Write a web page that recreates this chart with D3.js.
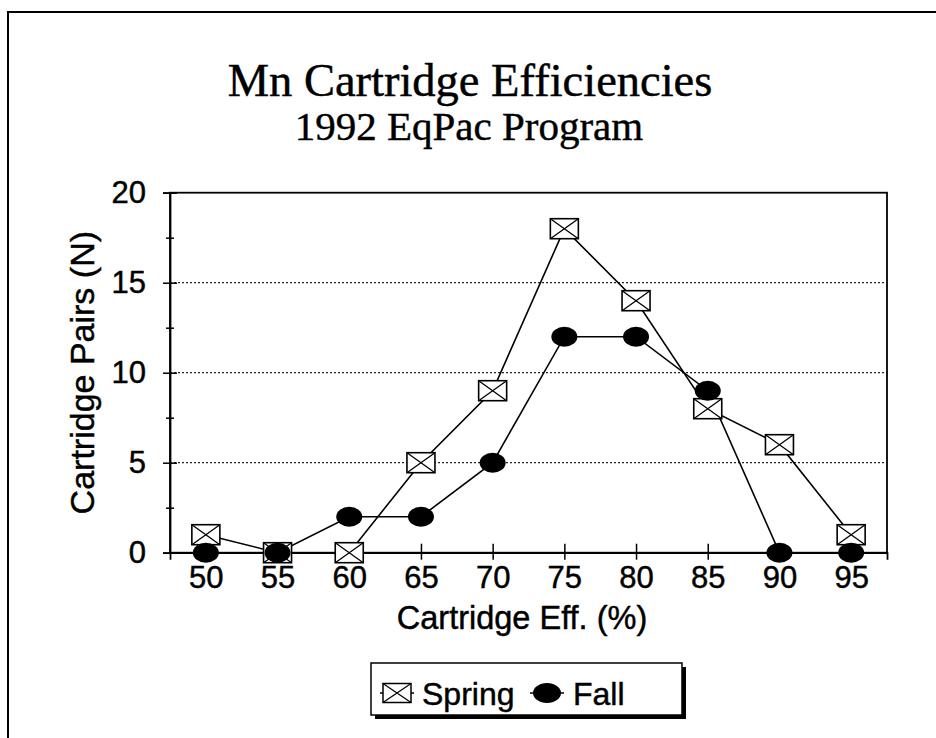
<!DOCTYPE html>
<html>
<head>
<meta charset="utf-8">
<script src="https://cdn.jsdelivr.net/npm/d3@7"></script>
<style>
  html, body { margin: 0; padding: 0; background: #fff; }
  svg { display: block; }
  svg text { stroke: #000; stroke-width: 0.45px; }
</style>
</head>
<body>
<svg id="chart" width="936" height="738"></svg>
<script>
// ---- Data ----
const categories = ["50", "55", "60", "65", "70", "75", "80", "85", "90", "95"];
const springValues = [1, 0, 0, 5, 9, 18, 14, 8, 6, 1];
const fallValues = [0, 0, 2, 2, 5, 12, 12, 9, 0, 0];
const yTickValues = [0, 5, 10, 15, 20];
const yMinorTickValues = [2.5, 7.5, 12.5, 17.5];
const titleText = "Mn Cartridge Efficiencies";
const subtitleText = "1992 EqPac Program";
const xTitleText = "Cartridge Eff. (%)";
const yTitleText = "Cartridge Pairs (N)";
const seriesNames = ["Spring", "Fall"];

// ---- Layout ----
const svg = d3.select("#chart");
const plot = { left: 170, right: 887, top: 192.7, bottom: 552.7 };
const sans = "'Liberation Sans', Arial, Helvetica, sans-serif";
const serif = "'Liberation Serif', 'Times New Roman', Times, serif";

const x = d3.scalePoint().domain(categories).range([plot.left, plot.right]).padding(0.5);
const y = d3.scaleLinear().domain([0, 20]).range([plot.bottom, plot.top]);

svg.append("rect").attr("width", 936).attr("height", 738).attr("fill", "#fff");

// outer frame (top and left edges visible)
svg.append("path")
  .attr("d", "M8,738 L8,12 L936,12")
  .attr("fill", "none").attr("stroke", "#000").attr("stroke-width", 2);

// titles
svg.append("text").attr("x", 470).attr("y", 96)
  .attr("text-anchor", "middle").attr("font-family", serif).attr("font-size", 46.5)
  .text(titleText);
svg.append("text").attr("x", 469).attr("y", 140)
  .attr("text-anchor", "middle").attr("font-family", serif).attr("font-size", 41)
  .text(subtitleText);

// gridlines
svg.append("g").selectAll("line")
  .data(yTickValues.filter(v => v > 0 && v < 20))
  .join("line")
  .attr("x1", plot.left).attr("x2", plot.right)
  .attr("y1", d => y(d)).attr("y2", d => y(d))
  .attr("stroke", "#222").attr("stroke-width", 1.2).attr("stroke-dasharray", "2,2");

// plot frame
svg.append("rect")
  .attr("x", plot.left).attr("y", plot.top)
  .attr("width", plot.right - plot.left).attr("height", plot.bottom - plot.top)
  .attr("fill", "none").attr("stroke", "#000").attr("stroke-width", 1.8);

// y axis
const yAxis = svg.append("g").attr("transform", `translate(${plot.left},0)`)
  .call(d3.axisLeft(y).tickValues(yTickValues).tickSize(7).tickPadding(17).tickFormat(d3.format("d")));
yAxis.select(".domain").attr("stroke-width", 1.8);
yAxis.selectAll(".tick line").attr("x1", 7).attr("x2", -7).attr("stroke-width", 1.5);
yAxis.selectAll(".tick text").attr("font-family", sans).attr("font-size", 31).attr("fill", "#000");

const yMinor = svg.append("g").attr("transform", `translate(${plot.left},0)`)
  .call(d3.axisLeft(y).tickValues(yMinorTickValues).tickSize(4).tickFormat(""));
yMinor.select(".domain").remove();
yMinor.selectAll(".tick line").attr("x1", 4).attr("x2", -4).attr("stroke-width", 1.5);

// x axis
const xAxis = svg.append("g").attr("transform", `translate(0,${plot.bottom})`)
  .call(d3.axisBottom(x).tickSize(7).tickPadding(16));
xAxis.select(".domain").attr("stroke-width", 1.8);
xAxis.selectAll(".tick line").attr("y1", -9).attr("y2", 7).attr("stroke-width", 1.5);
xAxis.selectAll(".tick text").attr("font-family", sans).attr("font-size", 31).attr("fill", "#000")
  .attr("dy", null).attr("y", 35);

// axis titles
svg.append("text").attr("x", 522).attr("y", 629)
  .attr("text-anchor", "middle").attr("font-family", sans).attr("font-size", 32.5)
  .text(xTitleText);
svg.append("text")
  .attr("transform", `translate(94,${(plot.top + plot.bottom) / 2}) rotate(-90)`)
  .attr("text-anchor", "middle").attr("font-family", sans).attr("font-size", 34)
  .text(yTitleText);

// lines
const line = d3.line().x((d, i) => x(categories[i])).y(d => y(d));
svg.append("path").datum(springValues).attr("d", line)
  .attr("fill", "none").attr("stroke", "#000").attr("stroke-width", 1.6);
svg.append("path").datum(fallValues).attr("d", line)
  .attr("fill", "none").attr("stroke", "#000").attr("stroke-width", 1.6);

// spring markers
const boxW = 28, boxH = 20;
function drawSpring(g) {
  g.append("rect").attr("x", -boxW / 2).attr("y", -boxH / 2).attr("width", boxW).attr("height", boxH)
    .attr("fill", "#fff").attr("stroke", "#000").attr("stroke-width", 1.6);
  g.append("path")
    .attr("d", `M${-boxW / 2},${-boxH / 2} L${boxW / 2},${boxH / 2} M${boxW / 2},${-boxH / 2} L${-boxW / 2},${boxH / 2}`)
    .attr("stroke", "#000").attr("stroke-width", 1.3);
}
svg.append("g").selectAll("g")
  .data(springValues)
  .join("g")
  .attr("transform", (d, i) => `translate(${x(categories[i])},${y(d)})`)
  .each(function () { drawSpring(d3.select(this)); });

// fall markers
svg.append("g").selectAll("ellipse")
  .data(fallValues)
  .join("ellipse")
  .attr("cx", (d, i) => x(categories[i])).attr("cy", d => y(d))
  .attr("rx", 13).attr("ry", 10).attr("fill", "#000");

// legend
const lg = { x: 371, y: 663, w: 311, h: 52 };
svg.append("rect").attr("x", lg.x + 4).attr("y", lg.y + 4).attr("width", lg.w).attr("height", lg.h).attr("fill", "#000");
svg.append("rect").attr("x", lg.x).attr("y", lg.y).attr("width", lg.w).attr("height", lg.h)
  .attr("fill", "#fff").attr("stroke", "#000").attr("stroke-width", 1.5);
const lsp = svg.append("g").attr("transform", `translate(${lg.x + 26},${lg.y + 30})`);
lsp.append("line").attr("x1", -17).attr("x2", 17).attr("stroke", "#000").attr("stroke-width", 1.5);
lsp.append("rect").attr("x", -14).attr("y", -9.5).attr("width", 28).attr("height", 19)
  .attr("fill", "#fff").attr("stroke", "#000").attr("stroke-width", 1.5);
lsp.append("path").attr("d", "M-14,-9.5 L14,9.5 M14,-9.5 L-14,9.5").attr("stroke", "#000").attr("stroke-width", 1.2);
svg.append("text").attr("x", lg.x + 51).attr("y", lg.y + 42)
  .attr("font-family", sans).attr("font-size", 32).text(seriesNames[0]);
const lfa = svg.append("g").attr("transform", `translate(${lg.x + 176},${lg.y + 30})`);
lfa.append("line").attr("x1", -17).attr("x2", 17).attr("stroke", "#000").attr("stroke-width", 1.5);
lfa.append("ellipse").attr("rx", 14).attr("ry", 10).attr("fill", "#000");
svg.append("text").attr("x", lg.x + 202).attr("y", lg.y + 42)
  .attr("font-family", sans).attr("font-size", 32).text(seriesNames[1]);
</script>
</body>
</html>
